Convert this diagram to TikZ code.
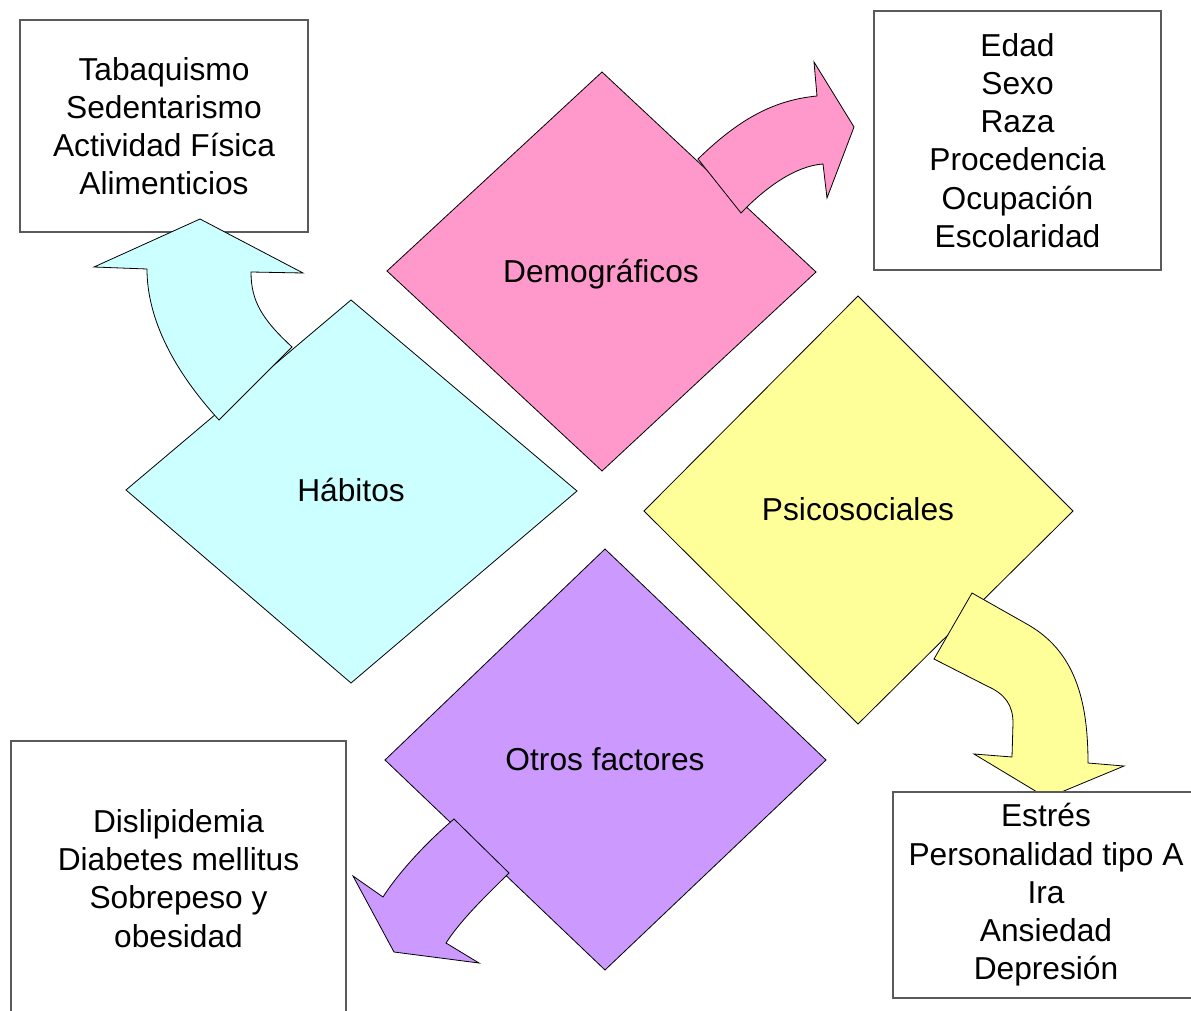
\documentclass[tikz,border=0pt]{standalone}
\usepackage{fontspec}
\setmainfont{Liberation Sans}
\usepackage{tikz}
\usetikzlibrary{positioning, calc}
\definecolor{habitoscolor}{HTML}{CCFFFF}
\definecolor{democolor}{HTML}{FF99CC}
\definecolor{psicocolor}{HTML}{FFFF99}
\definecolor{otroscolor}{HTML}{CC99FF}
\definecolor{boxline}{RGB}{90,90,90}

\tikzset{
    rombo/.style={draw=black, line width=0.8pt},
    flecha/.style={draw=black, line width=0.8pt},
    titulo/.style={font=\fontsize{31.7}{38.2}\selectfont},
    listbox/.style={draw=boxline, line width=1.1pt, fill=white, align=center,
        inner sep=0pt, font=\fontsize{31.7}{38.2}\selectfont}
}

\begin{document}
\begin{tikzpicture}[x=1pt, y=-1pt]
    \useasboundingbox (0,0) rectangle (1191,1011);
    \clip (0,0) rectangle (1191,1011);

    % rombos
    \draw[rombo, fill=democolor] (602,72) -- (816,272) -- (602,471) -- (387,271) -- cycle;
    \draw[rombo, fill=habitoscolor] (351,300) -- (577,491) -- (351,683) -- (126,490) -- cycle;
    \draw[rombo, fill=psicocolor] (858,296) -- (1073,511) -- (858,724) -- (644,511) -- cycle;
    \draw[rombo, fill=otroscolor] (605,549) -- (826,760) -- (605,970) -- (385,760) -- cycle;

    \node[titulo] (demo) at (601,274) {Demográficos};
    \node[titulo] (habitos) at (351,490) {Hábitos};
    \node[titulo] (psico) at (858,509) {Psicosociales};
    \node[titulo] (otros) at (605,759) {Otros factores};

    \node[listbox, minimum width=288pt, minimum height=212pt] (habitoslist) at (164,126)
        {Tabaquismo\\Sedentarismo\\Actividad Física\\Alimenticios};

    % flechas
    \draw[flecha, fill=democolor] (698,159) .. controls (740,118) and (775,100) .. (817,96)
        -- (814,62) -- (854,127) -- (827,198) -- (823,164)
        .. controls (795,166) and (765,188) .. (741,213) -- cycle;
    \draw[flecha, fill=habitoscolor] (219,420) .. controls (175,372) and (147,320) .. (147,269)
        -- (94,267) -- (200,219) -- (303,273) -- (251,272)
        .. controls (251,302) and (263,320) .. (292,347) -- cycle;
    \draw[flecha, fill=psicocolor] (972,593) -- (1025,623) .. controls (1075,650) and (1088,700) .. (1088,763)
        -- (1124,766) -- (1047,798) -- (974,754) -- (1012,757) -- (1013,723)
        .. controls (1013,705) and (1005,694) .. (987,686) -- (934,659) -- cycle;
    \draw[flecha, fill=otroscolor] (454,819) -- (509,873) .. controls (492,890) and (462,918) .. (446,943)
        -- (479,963) -- (394,952) -- (353,876) -- (383,897)
        .. controls (395,878) and (420,848) .. (454,819) -- cycle;

    \node[listbox, minimum width=287pt, minimum height=259pt] (demolist) at (1017.5,140.5)
        {Edad\\Sexo\\Raza\\Procedencia\\Ocupación\\Escolaridad};
    \node[listbox, minimum width=335pt, minimum height=275pt] (otroslist) at (178.5,878.5)
        {Dislipidemia\\Diabetes mellitus\\Sobrepeso y\\obesidad};
    \node[listbox, minimum width=306pt, minimum height=206pt] (psicolist) at (1046,895)
        {Estrés\\Personalidad tipo A\\Ira\\Ansiedad\\Depresión};
\end{tikzpicture}
\end{document}
